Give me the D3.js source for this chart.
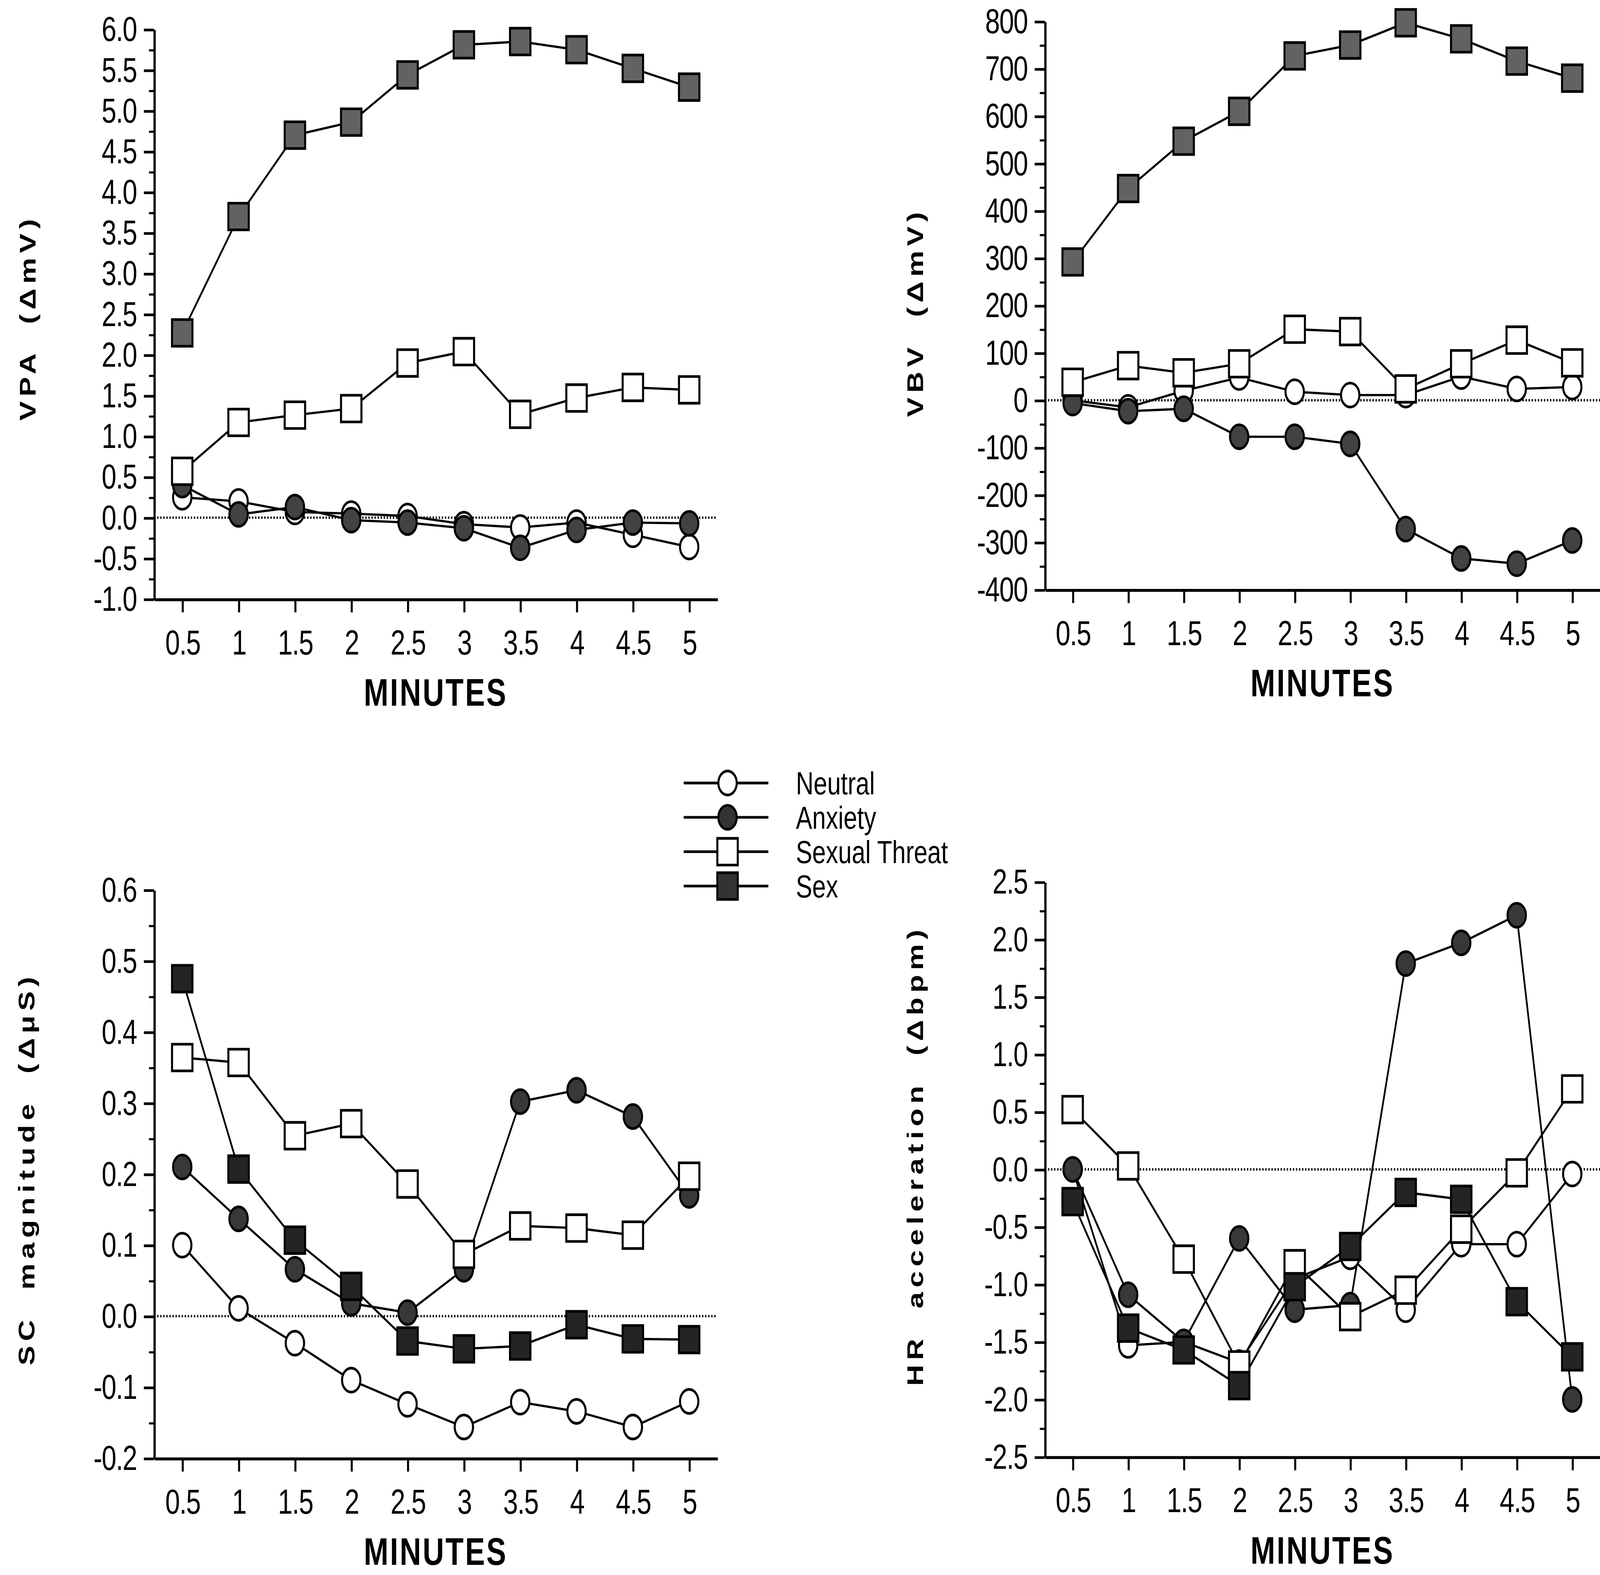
<!DOCTYPE html>
<html>
<head>
<meta charset="utf-8">
<script src="https://cdn.jsdelivr.net/npm/d3@7"></script>
<style>
  html, body { margin: 0; width: 100%; height: 100%; overflow: hidden; background: #fff; }
  #chart { width: 100vw; height: 100vh; }
  svg { display: block; }
  text { font-family: "Liberation Sans", Arial, Helvetica, sans-serif; fill: #000; }
</style>
</head>
<body>
<div id="chart"></div>
<script>
// DATA
const minutes = [0.5, 1, 1.5, 2, 2.5, 3, 3.5, 4, 4.5, 5]
const conditions = ["Neutral", "Anxiety", "Sexual Threat", "Sex"]

const vpaNeutral = [0.25, 0.2, 0.07, 0.05, 0.02, -0.08, -0.12, -0.06, -0.21, -0.36]
const vpaAnxiety = [0.4, 0.04, 0.13, -0.03, -0.06, -0.13, -0.37, -0.15, -0.06, -0.07]
const vpaThreat  = [0.57, 1.17, 1.26, 1.34, 1.9, 2.04, 1.27, 1.47, 1.6, 1.57]
const vpaSex     = [2.27, 3.7, 4.7, 4.86, 5.44, 5.81, 5.85, 5.75, 5.52, 5.29]

const vbvNeutral = [0, -15, 20, 48, 18, 11, 11, 50, 24, 28]
const vbvAnxiety = [-6, -23, -18, -77, -77, -92, -272, -334, -345, -296]
const vbvThreat  = [38, 73, 58, 77, 150, 145, 24, 77, 127, 79]
const vbvSex     = [292, 447, 547, 610, 727, 750, 797, 763, 716, 680]

const scNeutral = [0.1, 0.011, -0.038, -0.09, -0.124, -0.156, -0.121, -0.134, -0.156, -0.12]
const scAnxiety = [0.21, 0.137, 0.066, 0.018, 0.005, 0.066, 0.302, 0.318, 0.281, 0.17]
const scThreat  = [0.364, 0.357, 0.254, 0.271, 0.186, 0.087, 0.127, 0.124, 0.114, 0.197]
const scSex     = [0.475, 0.207, 0.107, 0.042, -0.035, -0.046, -0.042, -0.012, -0.032, -0.033]

const hrNeutral = [0, -1.53, -1.5, -1.68, -0.95, -0.76, -1.22, -0.65, -0.65, -0.04]
const hrAnxiety = [0, -1.09, -1.5, -0.6, -1.22, -1.18, 1.79, 1.97, 2.21, -2.0]
const hrThreat  = [0.52, 0.03, -0.78, -1.7, -0.82, -1.28, -1.05, -0.52, -0.03, 0.7]
const hrSex     = [-0.28, -1.38, -1.57, -1.88, -1.02, -0.67, -0.2, -0.26, -1.15, -1.63]

// TICK LABELS
const vpaTicks = [-1.0, -0.5, 0.0, 0.5, 1.0, 1.5, 2.0, 2.5, 3.0, 3.5, 4.0, 4.5, 5.0, 5.5, 6.0]
const vbvTicks = [-400, -300, -200, -100, 0, 100, 200, 300, 400, 500, 600, 700, 800]
const scTicks  = [-0.2, -0.1, 0.0, 0.1, 0.2, 0.3, 0.4, 0.5, 0.6]
const hrTicks  = [-2.5, -2.0, -1.5, -1.0, -0.5, 0.0, 0.5, 1.0, 1.5, 2.0, 2.5]

// canvas works in "picture units", stretched over the whole window by the viewBox
const W = 1568, H = 1180.5
const svg = d3.select("#chart").append("svg")
  .attr("width", "100%")
  .attr("height", "100%")
  .attr("viewBox", `0 0 ${W} ${H}`)
  .attr("preserveAspectRatio", "none")

const dash = s => s.replace("\u2212", "-") // d3 uses a real minus sign, the figure a hyphen

const panels = [
  { left: 151, right: 703, top: 22, bottom: 449, ticks: vpaTicks, fmt: d3.format(".1f"),
    title: "VPA  (\u0394mV)", titleX: 27, titleY: 238,
    series: [vpaNeutral, vpaAnxiety, vpaThreat, vpaSex], anxFill: "#424242", sexFill: "#626262" },
  { left: 1024, right: 1568, top: 16, bottom: 442, ticks: vbvTicks, fmt: d3.format("d"),
    title: "VBV  (\u0394mV)", titleX: 897, titleY: 234,
    series: [vbvNeutral, vbvAnxiety, vbvThreat, vbvSex], anxFill: "#424242", sexFill: "#626262" },
  { left: 151, right: 703, top: 667, bottom: 1093, ticks: scTicks, fmt: d3.format(".1f"),
    title: "SC  magnitude  (\u0394\u03bcS)", titleX: 26, titleY: 876,
    series: [scNeutral, scAnxiety, scThreat, scSex], anxFill: "#383838", sexFill: "#242424" },
  { left: 1024, right: 1568, top: 661, bottom: 1092, ticks: hrTicks, fmt: d3.format(".1f"),
    title: "HR  acceleration  (\u0394bpm)", titleX: 897, titleY: 866,
    series: [hrNeutral, hrAnxiety, hrThreat, hrSex], anxFill: "#383838", sexFill: "#242424" }
]

const circle = d3.symbol().type(d3.symbolCircle).size(Math.PI * 9 * 9)
const square = d3.symbol().type(d3.symbolSquare).size(20 * 20)
const markerOf = i => (i < 2 ? circle : square)
const fillOf = (p, i) => [ "#fff", p.anxFill, "#fff", p.sexFill ][i]

panels.forEach(p => {
  const g = svg.append("g")

  const x = d3.scaleLinear().domain([0.25, 5.25]).range([p.left, p.right])
  const y = d3.scaleLinear().domain(d3.extent(p.ticks)).range([p.bottom, p.top])

  // zero reference line
  g.append("line")
    .attr("x1", p.left).attr("x2", p.right)
    .attr("y1", y(0)).attr("y2", y(0))
    .attr("stroke", "#000")
    .attr("stroke-width", 1.8)
    .attr("stroke-dasharray", "1.3 1.7")

  // minor ticks halfway between the labelled ones
  const minor = d3.pairs(p.ticks).map(([a, b]) => (a + b) / 2)
  g.append("g")
    .attr("transform", `translate(${p.left},0)`)
    .call(d3.axisLeft(y).tickValues(minor).tickSize(5).tickFormat(""))
    .call(a => a.select(".domain").remove())
    .selectAll("line").attr("stroke-width", 1.6)

  // y axis
  const yAxis = g.append("g")
    .attr("transform", `translate(${p.left},0)`)
    .call(d3.axisLeft(y).tickValues(p.ticks).tickSize(10).tickSizeOuter(0).tickPadding(7)
      .tickFormat(d => dash(p.fmt(d))))
  yAxis.select(".domain").attr("stroke-width", 2.2)
  yAxis.selectAll(".tick line").attr("stroke-width", 2)
  yAxis.selectAll("text").attr("font-size", 26).attr("letter-spacing", -0.6)
    .style("font-family", "Liberation Sans, Arial, sans-serif")

  // x axis
  const xAxis = g.append("g")
    .attr("transform", `translate(0,${p.bottom})`)
    .call(d3.axisBottom(x).tickValues(minutes).tickSize(10).tickSizeOuter(0).tickPadding(13)
      .tickFormat(d => String(d)))
  xAxis.select(".domain").attr("stroke-width", 2.2)
  xAxis.selectAll(".tick line").attr("stroke-width", 2)
  xAxis.selectAll("text").attr("font-size", 26).attr("letter-spacing", -0.6)
    .style("font-family", "Liberation Sans, Arial, sans-serif")

  // axis titles
  g.append("text")
    .attr("transform", `translate(${p.titleX},${p.titleY}) rotate(-90)`)
    .attr("text-anchor", "middle")
    .attr("dy", "0.35em")
    .attr("font-size", 22)
    .attr("font-weight", "bold")
    .attr("letter-spacing", 3.5)
    .style("white-space", "pre")
    .text(p.title)

  g.append("text")
    .attr("x", (x(0.5) + x(5)) / 2)
    .attr("y", p.bottom + 80)
    .attr("text-anchor", "middle")
    .attr("font-size", 29)
    .attr("font-weight", "bold")
    .attr("letter-spacing", 1.5)
    .text("MINUTES")

  // lines first, then markers
  const line = d3.line().x((d, i) => x(minutes[i])).y(d => y(d))
  p.series.forEach(vals => {
    g.append("path")
      .attr("d", line(vals))
      .attr("fill", "none")
      .attr("stroke", "#000")
      .attr("stroke-width", 1.7)
  })
  p.series.forEach((vals, si) => {
    g.selectAll(null)
      .data(vals)
      .enter().append("path")
      .attr("transform", (d, i) => `translate(${x(minutes[i])},${y(d)})`)
      .attr("d", markerOf(si)())
      .attr("fill", fillOf(p, si))
      .attr("stroke", "#000")
      .attr("stroke-width", 2)
  })
})

// LEGEND
const legend = svg.append("g")
const legendY = d3.scaleBand().domain(conditions).range([574, 677])
const legendFills = ["#fff", "#333", "#fff", "#333"]
conditions.forEach((c, i) => {
  const cy = legendY(c) + legendY.bandwidth() / 2
  legend.append("line")
    .attr("x1", 670).attr("x2", 753)
    .attr("y1", cy).attr("y2", cy)
    .attr("stroke", "#000").attr("stroke-width", 2)
  legend.append("path")
    .attr("transform", `translate(713,${cy})`)
    .attr("d", markerOf(i)())
    .attr("fill", legendFills[i])
    .attr("stroke", "#000")
    .attr("stroke-width", 2)
  legend.append("text")
    .attr("x", 780).attr("y", cy)
    .attr("dy", "0.36em")
    .attr("font-size", 24)
    .text(c)
})
</script>
</body>
</html>
